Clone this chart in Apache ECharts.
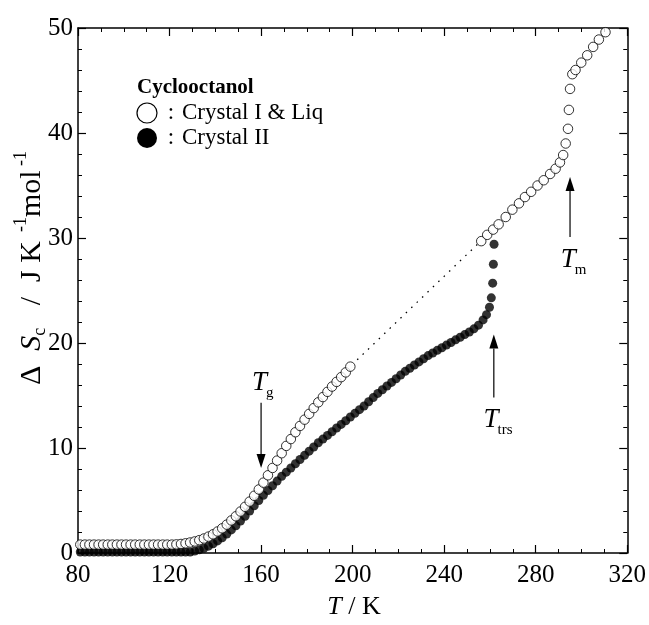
<!DOCTYPE html>
<html><head><meta charset="utf-8">
<script src="https://cdn.jsdelivr.net/npm/echarts@6/dist/echarts.min.js"></script>
<style>html,body{margin:0;padding:0;background:#fff}#c{width:649px;height:625px}</style>
</head><body><div id="c"></div>
<script>
// Crystal I & Liq (open circles), low-temperature branch
const openLowT = [81,83,85,87,89,91,93,95,97,99,101,103,105,107,109,111,113,115,117,119,121,
  123,125,127,129,131,133,135,137,139,141,143,145,147,149,151,153,155,157,159,161,163,165,167,169,
  171,173,175,177,179,181,183,185,187,189,191,193,195,197,199];
const openLowS = [0.8,0.8,0.8,0.8,0.8,0.8,0.8,0.8,0.8,0.8,0.8,0.8,0.8,0.8,0.8,0.8,0.8,0.8,0.8,0.8,0.8,
  0.82,0.86,0.92,1.0,1.1,1.22,1.38,1.56,1.78,2.05,2.35,2.7,3.1,3.5,3.95,4.4,4.9,5.45,6.05,6.7,7.4,8.1,8.8,9.5,
  10.2,10.85,11.5,12.1,12.7,13.25,13.8,14.35,14.85,15.35,15.85,16.3,16.75,17.2,17.75];
// Crystal I & Liq (open circles), high-temperature branch
const openHighT = [256.2,258.8,261.4,263.8,266.9,269.8,272.7,275.3,278.0,280.8,283.5,286.3,288.7,290.6,292.0,
  293.1,294.1,294.5,295.0,296.0,297.4,299.9,302.5,305.1,307.6,310.5];
const openHighS = [29.7,30.3,30.8,31.3,32.0,32.7,33.3,33.9,34.4,35.0,35.5,36.1,36.6,37.2,37.9,
  39.0,40.4,42.2,44.2,45.6,46.0,46.7,47.4,48.2,48.9,49.6];
// dotted connection between the two open-circle branches
const dottedT = [202, 255.5];
const dottedS = [18.4, 29.6];
// Crystal II (filled circles)
const fillT = [81,83,85,87,89,91,93,95,97,99,101,103,105,107,109,111,113,115,117,119,121,123,125,127,129,
  131,133,135,137,139,141,143,145,147,149,151,153,155,157,159,161,163,165,167,169,171,173,175,177,179,
  181,183,185,187,189,191,193,195,197,199,201,203,205,207,209,211,213,215,217,219,221,223,225,227,229,
  231,233,235,237,239,241,243,245,247,249,251,253,255,257,258.5,259.8,260.6,261.2,261.5,261.8];
const fillS = [0.1,0.1,0.1,0.1,0.1,0.1,0.1,0.1,0.1,0.1,0.1,0.1,0.1,0.1,0.1,0.1,0.1,0.1,0.1,0.1,0.1,0.1,0.1,0.1,0.1,
  0.18,0.3,0.45,0.65,0.88,1.15,1.45,1.8,2.2,2.6,3.05,3.5,4.0,4.5,5.0,5.5,5.95,6.4,6.85,7.3,7.7,8.1,8.5,8.9,9.3,
  9.7,10.1,10.5,10.85,11.2,11.55,11.9,12.25,12.6,12.95,13.3,13.65,14.0,14.4,14.8,15.2,15.55,15.9,16.25,16.6,16.95,17.3,17.6,17.9,18.2,
  18.5,18.8,19.05,19.3,19.55,19.8,20.05,20.3,20.55,20.8,21.05,21.35,21.7,22.2,22.7,23.4,24.3,25.7,27.5,29.4];
// axis ticks
const xTicks = [80,120,160,200,240,280,320];
const yTicks = [0,10,20,30,40,50];
// annotation arrows: [x, yTail, yTip]
const arrowTg = [160, 14.3, 8.1];
const arrowTtrs = [261.7, 14.8, 20.8];
const arrowTm = [295, 30.1, 35.8];

const zip = (a, b) => a.map((v, i) => [v, b[i]]);
const FONT = '"Liberation Serif", "Times New Roman", serif';
const chart = echarts.init(document.getElementById('c'));

const axisBase = {
  type: 'value',
  axisLine: {show: true, onZero: false, lineStyle: {color: '#000', width: 1.5}},
  axisTick: {show: true, inside: true, length: 8, lineStyle: {color: '#000', width: 1.2}},
  splitLine: {show: false}
};
const xMin = xTicks[0], xMax = xTicks[xTicks.length - 1], xInt = xTicks[1] - xTicks[0];
const yMin = yTicks[0], yMax = yTicks[yTicks.length - 1], yInt = yTicks[1] - yTicks[0];
const xAx = (pos, lab) => Object.assign({}, axisBase, {
  position: pos, min: xMin, max: xMax, interval: xInt,
  minorTick: {show: true, splitNumber: 4, length: 4, lineStyle: {color: '#000', width: 1}},
  axisLabel: {show: lab, color: '#000', fontSize: 25, fontFamily: FONT, margin: 10}
});
const yAx = (pos, lab) => Object.assign({}, axisBase, {
  position: pos, min: yMin, max: yMax, interval: yInt,
  minorTick: {show: true, splitNumber: 5, length: 4, lineStyle: {color: '#000', width: 1}},
  axisLabel: {show: lab, color: '#000', fontSize: 25, fontFamily: FONT, margin: 5}
});

chart.setOption({
  animation: false,
  backgroundColor: '#fff',
  grid: {left: 78, right: 19, top: 28, bottom: 72},
  xAxis: [xAx('bottom', true), xAx('top', false)],
  yAxis: [yAx('left', true), yAx('right', false)],
  series: [
    {type: 'line', data: zip(dottedT, dottedS), showSymbol: false, symbol: 'none',
      lineStyle: {color: '#000', width: 1.3, type: [1.5, 6]}, z: 1},
    {type: 'scatter', name: 'Crystal II', data: zip(fillT, fillS), symbol: 'circle', symbolSize: 9,
      itemStyle: {color: '#000'}, z: 2},
    {type: 'scatter', name: 'Crystal I & Liq', data: zip(openLowT, openLowS), symbol: 'circle', symbolSize: 9.5,
      itemStyle: {color: '#fff', borderColor: '#000', borderWidth: 1}, z: 3},
    {type: 'scatter', name: 'Crystal I & Liq', data: zip(openHighT, openHighS), symbol: 'circle', symbolSize: 9.5,
      itemStyle: {color: '#fff', borderColor: '#000', borderWidth: 1}, z: 3}
  ]
});

const ctx = document.createElement('canvas').getContext('2d');
function tw(text, size, style) { ctx.font = (style || 'normal') + ' ' + size + 'px ' + FONT; return ctx.measureText(text).width; }
const px = (x, y) => chart.convertToPixel({gridIndex: 0}, [x, y]);

function txt(x, y, text, size, opts) {
  opts = opts || {};
  return {type: 'text', x: x, y: y, z: 10, style: {text: text, fontSize: size, fontFamily: FONT,
    fontStyle: opts.italic ? 'italic' : 'normal', fontWeight: opts.bold ? 'bold' : 'normal',
    fill: '#000', align: opts.align || 'left', verticalAlign: 'middle'}};
}
function pieces(list) {
  // list: [text, size, italic, dy]
  let x = 0; const out = [];
  list.forEach(p => { out.push(txt(x, p[3], p[0], p[1], {italic: p[2]})); x += tw(p[0], p[1], p[2] ? 'italic' : 'normal'); });
  return {children: out, width: x};
}
function arrow(a) {
  const t = px(a[0], a[1]), h = px(a[0], a[2]);
  const dir = h[1] > t[1] ? 1 : -1;
  const L = 14, W = 4.5;
  return [
    {type: 'line', z: 10, shape: {x1: t[0], y1: t[1], x2: h[0], y2: h[1] - dir * L}, style: {stroke: '#000', lineWidth: 1.2}},
    {type: 'polygon', z: 10, shape: {points: [[h[0], h[1]], [h[0] - W, h[1] - dir * L], [h[0] + W, h[1] - dir * L]]}, style: {fill: '#000'}}
  ];
}
function sublabel(x, y, main, sub) {
  const w = tw(main, 27, 'italic');
  return [txt(x - w / 2, y, main, 27, {italic: true}), txt(x + w / 2 - 1, y + 10, sub, 15)];
}

const yt = pieces([['Δ  ', 30, false, 0], ['S', 30, true, 0], ['c', 18, false, 8], ['   /  J K', 30, false, 0],
  ['  -1', 18, false, -11], ['mol', 30, false, 0], [' -1', 18, false, -11]]);
const xt = pieces([['T', 26, true, 0], [' / K', 26, false, 0]]);

const pTg = px(159.3, 16.2), pTm = px(294.2, 27.9), pTtrs = px(260.5, 12.7);
const g = [
  {type: 'group', x: 32, y: 268 + yt.width / 2, rotation: Math.PI / 2, children: yt.children},
  {type: 'group', x: 354 - xt.width / 2, y: 607, children: xt.children},
  txt(137, 88, 'Cyclooctanol', 21, {bold: true}),
  {type: 'circle', z: 10, shape: {cx: 147, cy: 113, r: 10}, style: {fill: '#fff', stroke: '#000', lineWidth: 1.2}},
  {type: 'circle', z: 10, shape: {cx: 147, cy: 138, r: 10}, style: {fill: '#000'}},
  txt(171, 113, ':', 23, {align: 'center'}), txt(182, 113, 'Crystal I & Liq', 23),
  txt(171, 138, ':', 23, {align: 'center'}), txt(182, 138, 'Crystal II', 23)
].concat(arrow(arrowTg), arrow(arrowTtrs), arrow(arrowTm),
  sublabel(pTg[0], pTg[1], 'T', 'g'), sublabel(pTm[0], pTm[1], 'T', 'm'), sublabel(pTtrs[0], pTtrs[1], 'T', 'trs'));

chart.setOption({graphic: {elements: g}});
</script></body></html>
